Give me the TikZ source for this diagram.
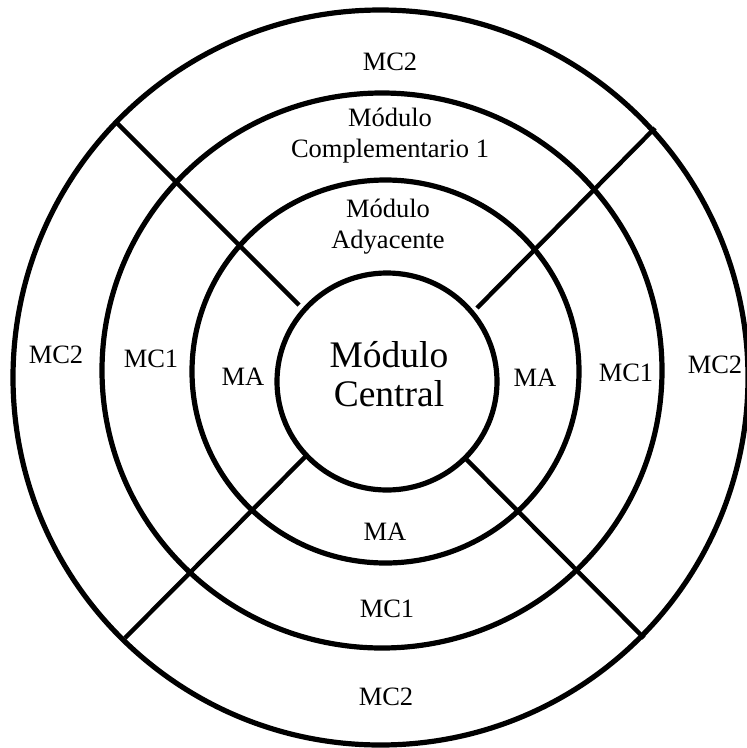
\documentclass[tikz,border=0pt]{standalone}
\usepackage{fontspec}
\setmainfont{Liberation Serif}
\tikzset{
  ring/.style={line width=5.2pt},
  divider/.style={line width=4.4pt},
  lbl/.style={font=\fontsize{26.5}{31}\selectfont, inner sep=0pt, align=center},
  bigl/.style={font=\fontsize{37.5}{39}\selectfont, inner sep=0pt, align=center}
}
\begin{document}
\begin{tikzpicture}[x=1pt,y=-1pt]
\useasboundingbox (0,0) rectangle (747,748);
% rings
\draw[ring] (380.5,377.5) ellipse [x radius=367.5, y radius=367.5];
\draw[ring] (382,370.5) ellipse [x radius=280, y radius=277.5];
\draw[ring] (385.5,371.5) ellipse [x radius=193.5, y radius=191.5];
\draw[ring] (387,381.5) ellipse [x radius=110, y radius=108.5];
% dividers
\coordinate (ulo) at (117,123);  \coordinate (uli) at (299,305);
\coordinate (uro) at (655,128);  \coordinate (uri) at (477,308);
\coordinate (llo) at (125,638);  \coordinate (lli) at (305,457);
\coordinate (lro) at (644,638);  \coordinate (lri) at (464,457);
\draw[divider] (uli) -- (ulo);
\draw[divider] (uri) -- (uro);
\draw[divider] (lli) -- (llo);
\draw[divider] (lri) -- (lro);
% labels
\node[bigl] (mc) at (389,374) {Módulo\\Central};
\node[lbl] (ta) at (388,227) {Módulo\\Adyacente};
\node[lbl] (tc1) at (390,136) {Módulo\\Complementario 1};
\node[lbl] (tc2) at (390,62) {MC2};
\node[lbl] (lc2) at (56,355) {MC2};
\node[lbl] (lc1) at (151,359) {MC1};
\node[lbl] (la) at (243,377) {MA};
\node[lbl] (ra) at (535,378) {MA};
\node[lbl] (rc1) at (626,373) {MC1};
\node[lbl] (rc2) at (715,365) {MC2};
\node[lbl] (ba) at (385,532) {MA};
\node[lbl] (bc1) at (387,609) {MC1};
\node[lbl] (bc2) at (386,697) {MC2};
\end{tikzpicture}
\end{document}
